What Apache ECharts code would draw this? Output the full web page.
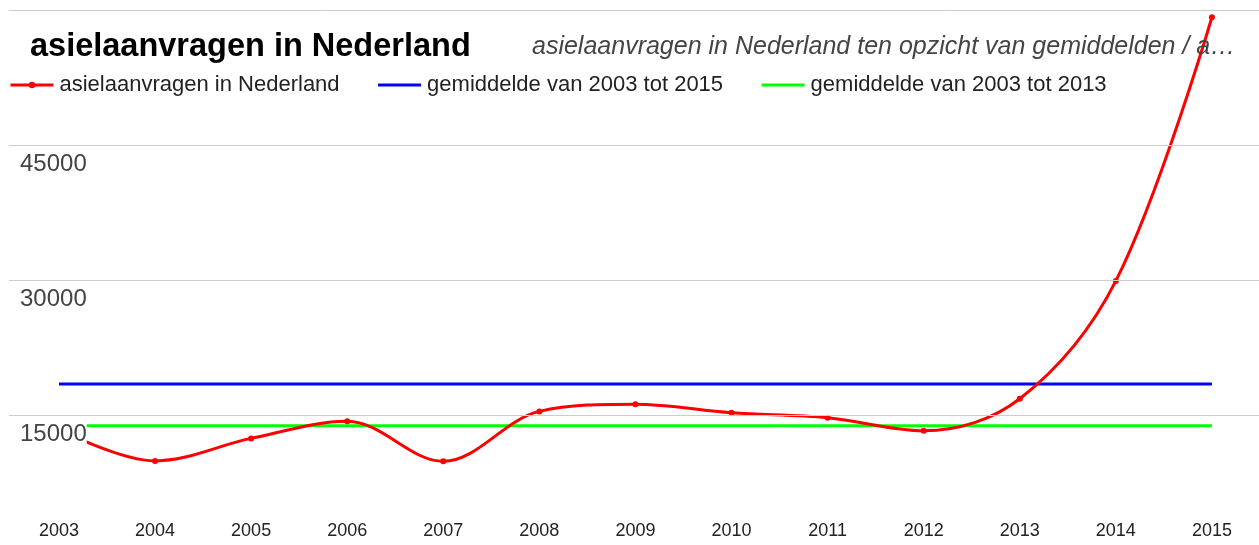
<!DOCTYPE html>
<html>
<head>
<meta charset="utf-8">
<script src="https://cdn.jsdelivr.net/npm/echarts@6/dist/echarts.min.js"></script>
<style>
  html, body { margin: 0; padding: 0; background: #fff; }
  #chart { width: 1259px; height: 545px; }
</style>
</head>
<body>
<div id="chart"></div>
<script>
// jaren en aantallen asielaanvragen
var years = [2003, 2004, 2005, 2006, 2007, 2008, 2009, 2010, 2011, 2012, 2013, 2014, 2015];
var aanvragen = [13400, 9900, 12400, 14300, 9850, 15400, 16200, 15250, 14700, 13250, 16800, 29900, 59200];
var gem2015 = 18450;   // gemiddelde van 2003 tot 2015
var gem2013 = 13800;   // gemiddelde van 2003 tot 2013
var yTicks = [15000, 30000, 45000];

var seriesNames = ['asielaanvragen in Nederland', 'gemiddelde van 2003 tot 2015', 'gemiddelde van 2003 tot 2013'];

var font = '"Liberation Sans", Arial, sans-serif';

var chart = echarts.init(document.getElementById('chart'));

var redData = [];
for (var i = 0; i < years.length; i++) {
    redData.push([years[i], aanvragen[i]]);
}
var first = years[0], last = years[years.length - 1];

var option = {
    backgroundColor: '#fff',
    animation: false,
    title: [
        {
            text: 'asielaanvragen in Nederland',
            left: 30, top: 31, padding: 0,
            textStyle: { fontFamily: font, fontSize: 32.5, fontWeight: 'bold', color: '#000' }
        },
        {
            text: 'asielaanvragen in Nederland ten opzicht van gemiddelden / a…',
            left: 532, top: 35, padding: 0,
            textStyle: { fontFamily: font, fontSize: 25, fontStyle: 'italic', fontWeight: 'normal', color: '#444' }
        }
    ],
    legend: {
        left: 9, top: 74, padding: 0,
        itemWidth: 43, itemHeight: 8, itemGap: 37,
        lineStyle: { width: 3 },
        textStyle: { fontFamily: font, fontSize: 22, color: '#222', padding: [0, 0, 0, 1] },
        data: [
            { name: seriesNames[0] },
            { name: seriesNames[1], itemStyle: { opacity: 0 } },
            { name: seriesNames[2], itemStyle: { opacity: 0 } }
        ]
    },
    grid: { left: 9, right: 0, top: 10, height: 540, outerBoundsMode: 'none', containLabel: false },
    xAxis: {
        type: 'value',
        min: 2002.48, max: 2015.49,
        axisLine: { show: false },
        axisTick: { show: false },
        splitLine: { show: false },
        axisLabel: {
            customValues: years,
            formatter: function (v) { return String(v); },
            margin: -28,
            fontFamily: font, fontSize: 18, color: '#222'
        }
    },
    yAxis: {
        type: 'value',
        min: 0, max: 60000, interval: 15000,
        z: 5,
        axisLine: { show: false },
        axisTick: { show: false },
        splitLine: { lineStyle: { color: '#cccccc', width: 1 } },
        axisLabel: {
            inside: true,
            margin: 11,
            align: 'left',
            verticalAlign: 'top',
            padding: [6, 0, 0, 0],
            formatter: function (v) {
                return yTicks.indexOf(v) >= 0 ? '{b|' + v + '}' : '';
            },
            rich: {
                b: { backgroundColor: '#fff', fontFamily: font, fontSize: 24, color: '#444', padding: [1, 0, 1, 0] }
            }
        }
    },
    series: [
        {
            name: seriesNames[0],
            type: 'line',
            smooth: 0.35,
            data: redData,
            symbol: 'circle', symbolSize: 6,
            itemStyle: { color: '#ff0000' },
            lineStyle: { color: '#ff0000', width: 3 },
            z: 3
        },
        {
            name: seriesNames[1],
            type: 'line',
            data: [[first, gem2015], [last, gem2015]],
            symbol: 'none',
            itemStyle: { color: '#0000ff' },
            lineStyle: { color: '#0000ff', width: 3 },
            z: 2
        },
        {
            name: seriesNames[2],
            type: 'line',
            data: [[first, gem2013], [last, gem2013]],
            symbol: 'none',
            itemStyle: { color: '#00ff00' },
            lineStyle: { color: '#00ff00', width: 3 },
            z: 2
        }
    ]
};

chart.setOption(option);
window.addEventListener('resize', function () {
    chart.resize();
});
</script>
</body>
</html>
